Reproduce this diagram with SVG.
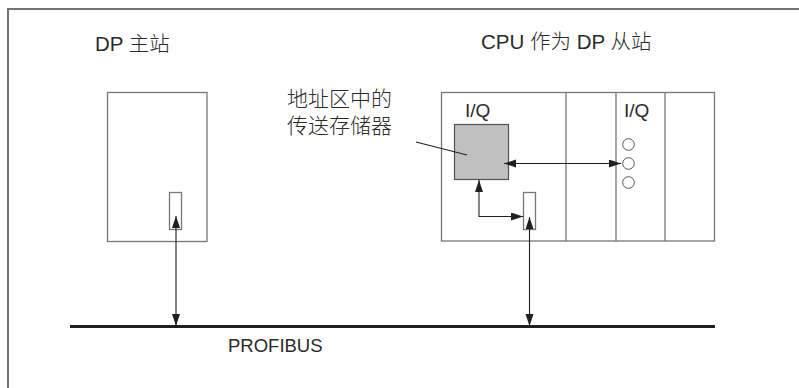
<svg xmlns="http://www.w3.org/2000/svg" width="799" height="388" viewBox="0 0 799 388">
<defs>
<style>
text{font-family:"Liberation Sans","Noto Sans CJK SC",sans-serif;fill:#2a2a2a;}
.cjk{font-weight:300;}
.box{fill:#fff;stroke:#777;stroke-width:1.3;}
.conn{fill:none;stroke:#231f20;stroke-width:1.1;}
.frame{fill:none;stroke:#737373;stroke-width:2;}
.led{fill:#fff;stroke:#555;stroke-width:1;}
</style>
<marker id="ah" markerUnits="userSpaceOnUse" markerWidth="13" markerHeight="9" refX="12" refY="4" orient="auto-start-reverse" viewBox="0 0 13 9">
<path d="M0,0 L12,4 L0,8 z" fill="#231f20"/>
</marker>
</defs>
<rect width="799" height="388" fill="#fff"/>
<path class="frame" d="M800,9 H8 V390"/>

<g id="title-master"><text class="cjk" x="95" y="51" font-size="20.5">DP 主站</text></g>
<g id="title-slave"><text class="cjk" x="481" y="49" font-size="20.5">CPU 作为 DP 从站</text></g>

<g id="dp-master">
<rect class="box" x="107.5" y="92.5" width="99.5" height="149"/>
<rect class="box" x="169.5" y="192.5" width="12" height="37"/>
</g>

<g id="cpu-slave">
<rect class="box" x="441.5" y="92.5" width="273" height="148.5"/>
<line class="box" x1="566" y1="92.5" x2="566" y2="241"/>
<line class="box" x1="616" y1="92.5" x2="616" y2="241"/>
<line class="box" x1="665" y1="92.5" x2="665" y2="241"/>
<text x="465" y="117" font-size="19">I/Q</text>
<text x="624" y="117" font-size="19">I/Q</text>
<rect class="box" x="523.5" y="192.5" width="12" height="37"/>
</g>

<g id="transfer-memory">
<rect x="454.5" y="124.5" width="54" height="55" fill="#c0c0c0" stroke="#555" stroke-width="1.2"/>
</g>

<g id="io-module-leds">
<circle class="led" cx="628.5" cy="144.5" r="5.8"/>
<circle class="led" cx="628.5" cy="163.5" r="5.8"/>
<circle class="led" cx="628.5" cy="182.5" r="5.8"/>
</g>

<g id="label-memory">
<text class="cjk" x="287" y="106" font-size="21">地址区中的</text>
<text class="cjk" x="287" y="133" font-size="21">传送存储器</text>
</g>

<g id="bus">
<line x1="70" y1="326.5" x2="715" y2="326.5" stroke="#231f20" stroke-width="3"/>
<text x="228" y="352" font-size="18.5">PROFIBUS</text>
</g>

<g id="connectors">
<line class="conn" x1="416" y1="142" x2="467" y2="155"/>
<line class="conn" x1="176" y1="216" x2="176" y2="326" marker-start="url(#ah)" marker-end="url(#ah)"/>
<line class="conn" x1="529.5" y1="217" x2="529.5" y2="326" marker-start="url(#ah)" marker-end="url(#ah)"/>
<line class="conn" x1="504" y1="163.5" x2="621" y2="163.5" marker-start="url(#ah)" marker-end="url(#ah)"/>
<path class="conn" d="M479,180 V216.5 H523" marker-start="url(#ah)" marker-end="url(#ah)"/>
</g>
</svg>
